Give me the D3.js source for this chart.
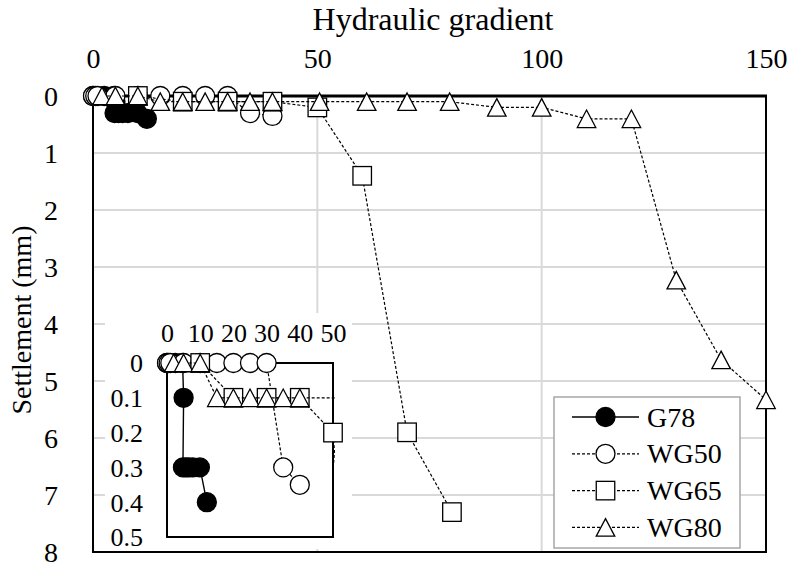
<!DOCTYPE html>
<html>
<head>
<meta charset="utf-8">
<script src="https://cdn.jsdelivr.net/npm/d3@7"></script>
<style>
  html, body { margin: 0; padding: 0; background: #fff; }
  svg { display: block; }
</style>
</head>
<body>
<svg id="chart" width="795" height="569" font-family="Liberation Serif, Times New Roman, serif"></svg>
<script>
// ---- data: hydraulic gradient vs settlement (mm) ----
const seriesNames = ["G78", "WG50", "WG65", "WG80"];

const g78Gradient   = [0, 2.5, 4.7, 5, 4.8, 5.7, 6.6, 7.8, 9.9, 12];
const g78Settlement = [0, 0, 0, 0.1, 0.3, 0.3, 0.3, 0.3, 0.3, 0.4];

const wg50Gradient   = [0, 0.5, 1, 5, 10, 15, 20, 25, 30, 35, 40];
const wg50Settlement = [0, 0, 0, 0, 0, 0, 0, 0, 0, 0.3, 0.35];

const wg65Gradient   = [10, 20, 30, 40, 50, 60, 70, 80];
const wg65Settlement = [0, 0.1, 0.1, 0.1, 0.2, 1.4, 5.9, 7.3];

const wg80Gradient   = [2, 5, 10, 15, 20, 25, 30, 35, 40, 50.5, 61, 70, 79.5, 90, 100, 110, 120, 130, 140, 150];
const wg80Settlement = [0, 0, 0, 0.1, 0.1, 0.1, 0.1, 0.1, 0.1, 0.1, 0.1, 0.1, 0.1, 0.2, 0.2, 0.4, 0.4, 3.23, 4.63, 5.33];

const xTicks = [0, 50, 100, 150];
const yTicks = [0, 1, 2, 3, 4, 5, 6, 7, 8];
const insetXTicks = [0, 10, 20, 30, 40, 50];
const insetYTicks = [0, 0.1, 0.2, 0.3, 0.4, 0.5];

const xTitle = "Hydraulic gradient";
const yTitle = "Settlement (mm)";

const FONT = "Liberation Serif, Times New Roman, serif";

// ---- build series records ----
const zip = (xs, ys) => xs.map((x, i) => ({ x, y: ys[i] }));
const series = [
  { name: seriesNames[0], pts: zip(g78Gradient, g78Settlement), marker: "filledCircle", dash: null },
  { name: seriesNames[1], pts: zip(wg50Gradient, wg50Settlement), marker: "circle", dash: "3,2" },
  { name: seriesNames[2], pts: zip(wg65Gradient, wg65Settlement), marker: "square", dash: "3,2" },
  { name: seriesNames[3], pts: zip(wg80Gradient, wg80Settlement), marker: "triangle", dash: "3,2" }
];

const svg = d3.select("#chart");
const grid = "#d9d9d9";

// ---- main scales ----
const x = d3.scaleLinear().domain([0, 150]).range([93, 766]);
const y = d3.scaleLinear().domain([0, 8]).range([96, 552]);

// marker drawing helper
function drawMarker(g, type, cx, cy) {
  if (type === "filledCircle" || type === "circle") {
    g.append("circle").attr("cx", cx).attr("cy", cy).attr("r", 9.5)
      .attr("fill", type === "filledCircle" ? "#000" : "#fff")
      .attr("stroke", "#000").attr("stroke-width", 1.3);
  } else if (type === "square") {
    const s = 18.5;
    g.append("rect").attr("x", cx - s / 2).attr("y", cy - s / 2)
      .attr("width", s).attr("height", s)
      .attr("fill", "#fff").attr("stroke", "#000").attr("stroke-width", 1.3);
  } else {
    const w = 18.5, h = 17.5;
    g.append("path")
      .attr("d", `M${cx},${cy - h / 2}L${cx + w / 2},${cy + h / 2}L${cx - w / 2},${cy + h / 2}Z`)
      .attr("fill", "#fff").attr("stroke", "#000").attr("stroke-width", 1.3)
      .attr("stroke-linejoin", "miter");
  }
}

// ---- gridlines ----
const gridG = svg.append("g");
gridG.selectAll("line.h").data(yTicks.filter(t => t > 0 && t < 8)).join("line")
  .attr("x1", x(0)).attr("x2", x(150))
  .attr("y1", d => y(d)).attr("y2", d => y(d))
  .attr("stroke", grid).attr("stroke-width", 2);
gridG.selectAll("line.v").data(xTicks.filter(t => t > 0 && t < 150)).join("line")
  .attr("x1", d => x(d)).attr("x2", d => x(d))
  .attr("y1", y(0)).attr("y2", y(8))
  .attr("stroke", grid).attr("stroke-width", 2);

// ---- plot frame ----
const frame = svg.append("g").attr("stroke", "#000").attr("fill", "none");
frame.append("line").attr("x1", x(0)).attr("x2", x(0)).attr("y1", y(0)).attr("y2", y(8)).attr("stroke-width", 2);
frame.append("line").attr("x1", x(150)).attr("x2", x(150)).attr("y1", y(0)).attr("y2", y(8)).attr("stroke-width", 2);
frame.append("line").attr("x1", x(0) - 1).attr("x2", x(150) + 1).attr("y1", y(8)).attr("y2", y(8)).attr("stroke-width", 2);
frame.append("line").attr("x1", x(0) - 1).attr("x2", x(150) + 1).attr("y1", y(0)).attr("y2", y(0)).attr("stroke-width", 3);

// ---- axes labels ----
const xAxis = svg.append("g").attr("transform", `translate(0,${y(0)})`)
  .call(d3.axisTop(x).tickValues(xTicks).tickSize(0).tickPadding(28).tickFormat(d3.format("d")));
xAxis.attr("font-family", FONT).attr("font-size", 28);
xAxis.select(".domain").remove();
xAxis.selectAll("text").attr("fill", "#000");

const yAxis = svg.append("g").attr("transform", `translate(${x(0)},0)`)
  .call(d3.axisLeft(y).tickValues(yTicks).tickSize(0).tickPadding(35).tickFormat(d3.format("d")));
yAxis.attr("font-family", FONT).attr("font-size", 28);
yAxis.select(".domain").remove();
yAxis.selectAll("text").attr("fill", "#000").attr("dy", "0.34em");

svg.append("text").attr("x", 433).attr("y", 30).attr("text-anchor", "middle")
  .attr("font-size", 32).attr("fill", "#000").text(xTitle);

svg.append("text").attr("transform", `translate(31,${(y(0) + y(8)) / 2 - 4}) rotate(-90)`)
  .attr("text-anchor", "middle").attr("font-size", 28).attr("fill", "#000").text(yTitle);

// ---- series in main plot ----
const line = d3.line().x(d => x(d.x)).y(d => y(d.y));
series.forEach(s => {
  const g = svg.append("g");
  g.append("path").attr("d", line(s.pts)).attr("fill", "none")
    .attr("stroke", "#000").attr("stroke-width", s.dash ? 1.2 : 1.4)
    .attr("stroke-dasharray", s.dash);
  s.pts.forEach(p => drawMarker(g, s.marker, x(p.x), y(p.y)));
});

// ---- legend ----
const leg = svg.append("g");
leg.append("rect").attr("x", 554).attr("y", 397).attr("width", 186).attr("height", 151)
  .attr("fill", "#fff").attr("stroke", "#a6a6a6").attr("stroke-width", 1.5);
series.forEach((s, i) => {
  const cy = 417 + i * 36.8;
  const g = leg.append("g");
  g.append("line").attr("x1", 572).attr("x2", 639).attr("y1", cy).attr("y2", cy)
    .attr("stroke", "#000").attr("stroke-width", s.dash ? 1.2 : 1.4)
    .attr("stroke-dasharray", s.dash);
  drawMarker(g, s.marker, 605.5, cy);
  g.append("text").attr("x", 647).attr("y", cy).attr("dy", "0.34em")
    .attr("font-size", 28).attr("fill", "#000").text(s.name);
});

// ---- inset: close-up of the first 50 gradient units ----
const ix = d3.scaleLinear().domain([0, 50]).range([167, 333]);
const iy = d3.scaleLinear().domain([0, 0.5]).range([363, 537]);
const inset = svg.append("g");
inset.append("rect").attr("x", 105).attr("y", 313).attr("width", 247).attr("height", 236)
  .attr("fill", "#fff");
inset.append("rect").attr("x", ix(0)).attr("y", iy(0))
  .attr("width", ix(50) - ix(0)).attr("height", iy(0.5) - iy(0))
  .attr("fill", "none").attr("stroke", "#000").attr("stroke-width", 2);

svg.append("defs").append("clipPath").attr("id", "insetClip")
  .append("rect").attr("x", ix(0) - 2).attr("y", iy(0) - 2)
  .attr("width", ix(50) - ix(0) + 4).attr("height", iy(0.5) - iy(0) + 4);

const iline = d3.line().x(d => ix(d.x)).y(d => iy(d.y));
series.forEach(s => {
  const g = inset.append("g");
  g.append("path").attr("d", iline(s.pts)).attr("fill", "none")
    .attr("clip-path", "url(#insetClip)")
    .attr("stroke", "#000").attr("stroke-width", s.dash ? 1.2 : 1.4)
    .attr("stroke-dasharray", s.dash);
  s.pts.filter(p => p.x <= 50 && p.y <= 0.5)
    .forEach(p => drawMarker(g, s.marker, ix(p.x), iy(p.y)));
});

const ixAxis = inset.append("g").attr("transform", `translate(0,${iy(0)})`)
  .call(d3.axisTop(ix).tickValues(insetXTicks).tickSize(0).tickPadding(21).tickFormat(d3.format("d")));
ixAxis.attr("font-family", FONT).attr("font-size", 26);
ixAxis.select(".domain").remove();
ixAxis.selectAll("text").attr("fill", "#000");

const iyAxis = inset.append("g").attr("transform", `translate(${ix(0)},0)`)
  .call(d3.axisLeft(iy).tickValues(insetYTicks).tickSize(0).tickPadding(24)
    .tickFormat(d => d === 0 ? "0" : d3.format(".1f")(d)));
iyAxis.attr("font-family", FONT).attr("font-size", 26);
iyAxis.select(".domain").remove();
iyAxis.selectAll("text").attr("fill", "#000").attr("dy", "0.34em");
</script>
</body>
</html>
